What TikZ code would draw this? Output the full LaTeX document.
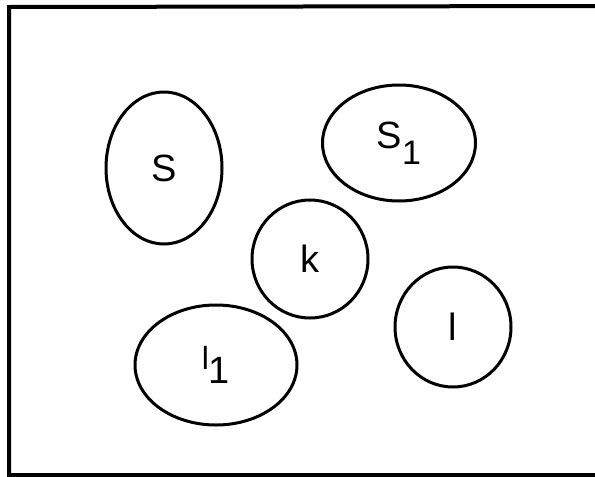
\documentclass[tikz,border=0pt]{standalone}
\usepackage{fontspec}
\setmainfont{Liberation Sans}
\usetikzlibrary{shapes.geometric}
\begin{document}
\begin{tikzpicture}[x=1pt,y=-1pt,
  blob/.style={draw=black,line width=3pt,ellipse,inner sep=0pt,
    font=\fontsize{38}{40}\selectfont},
  frameline/.style={draw=black,line width=4pt}]
\useasboundingbox (0,0) rectangle (595,477);
\fill[white] (0,0) rectangle (595,477);
\coordinate (ftr) at (595,6);
\coordinate (ftl) at (9,7);
\coordinate (fbl) at (9,475);
\coordinate (fbr) at (595,475);
\draw[frameline] (ftr) -- (ftl) -- (fbl) -- (fbr);
\node[blob,minimum width=116pt,minimum height=152pt] (S) at (164,168) {S};
\node[blob,minimum width=153pt,minimum height=116pt] (S1) at (399,143) {S\raisebox{-0.42em}{\fontsize{34}{36}\selectfont 1}};
\node[blob,minimum width=116pt,minimum height=118pt] (k) at (310,259) {k};
\node[blob,minimum width=116pt,minimum height=120pt] (l) at (453,327) {l};
\node[blob,minimum width=162pt,minimum height=120pt] (l1) at (216,365) {\fontsize{32}{34}\selectfont l\raisebox{-0.45em}{\fontsize{38}{40}\selectfont 1}};
\end{tikzpicture}
\end{document}
